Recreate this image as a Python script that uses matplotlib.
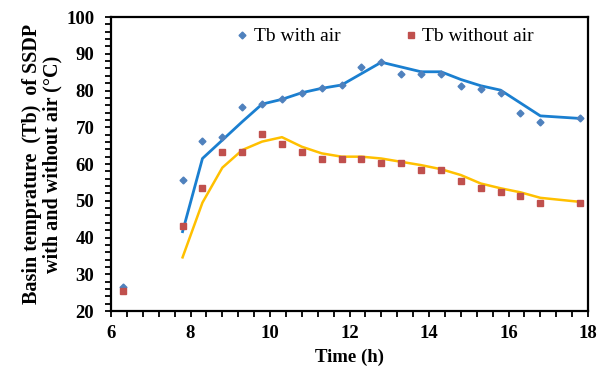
import numpy as np
import matplotlib
matplotlib.use("Agg")
import matplotlib.pyplot as plt

# measured points (h, degC)
t_pts = [6.3, 7.8, 8.3, 8.8, 9.3, 9.8, 10.3, 10.8, 11.3, 11.8, 12.3,
         12.8, 13.3, 13.8, 14.3, 14.8, 15.3, 15.8, 16.3, 16.8, 17.8]
tb_air = [26.6, 55.6, 66.3, 67.4, 75.4, 76.3, 77.6, 79.4, 80.6, 81.5, 86.5,
          87.7, 84.5, 84.5, 84.5, 81.3, 80.3, 79.4, 73.8, 71.3, 72.4]
tb_noair = [25.5, 43.2, 53.4, 63.3, 63.3, 68.3, 65.4, 63.3, 61.4, 61.3, 61.3,
            60.4, 60.4, 58.4, 58.4, 55.4, 53.4, 52.3, 51.3, 49.3, 49.3]

# fitted curves
t_fit = t_pts[1:]
fit_air = [41.6, 61.5, 66.5, 71.5, 76.3, 77.6, 79.4, 80.6, 81.5, 84.6,
           87.7, 86.4, 85.1, 85.1, 83.0, 81.3, 80.1, 76.6, 73.1, 72.4]
fit_noair = [34.6, 49.5, 59.0, 63.8, 66.1, 67.3, 64.7, 62.9, 62.0, 62.0,
             61.5, 60.6, 59.7, 58.6, 57.0, 54.7, 53.4, 52.3, 50.8, 49.7]

plt.rcParams['font.family'] = ['Liberation Serif', 'DejaVu Serif']

f = plt.figure(figsize=(6.05, 3.74), dpi=100)
ax = f.add_axes([0.1835, 0.1684, 0.972 - 0.1835, 0.9545 - 0.1684])

ax.plot(t_fit, fit_air, color='#1a7fd0', lw=2.0, solid_joinstyle='round', zorder=2)
ax.plot(t_fit, fit_noair, color='#ffc000', lw=1.8, solid_joinstyle='round', zorder=2)
h1, = ax.plot(t_pts, tb_air, ls='none', marker='D', ms=3.5, color='#4f81bd',
              label='Tb with air', zorder=3)
h2, = ax.plot(t_pts, tb_noair, ls='none', marker='s', ms=5, color='#c0504d',
              label='Tb without air', zorder=3)

ax.set_xlim(6, 18)
ax.set_ylim(20, 100)
ax.set_xticks(np.arange(6, 19, 2))
ax.set_yticks(np.arange(20, 101, 10))
ax.set_xticks(np.arange(6, 18.01, 0.4), minor=True)
ax.set_yticks(np.arange(20, 101, 2), minor=True)
ax.tick_params(which='both', direction='out', length=4, width=1.3, color='black')
ax.tick_params(axis='x', pad=6)
ax.tick_params(axis='y', pad=8)
for lbl in ax.get_xticklabels() + ax.get_yticklabels():
    lbl.set_fontweight('bold')
    lbl.set_fontsize(13.5)
for s in ax.spines.values():
    s.set_linewidth(1.6)
    s.set_color('black')

ax.set_xlabel('Time (h)', fontsize=13.5, fontweight='bold', labelpad=5)
ax.set_ylabel('Basin temprature  (Tb)  of SSDP\nwith and without air (\u00b0C)',
              fontsize=14.5, fontweight='bold', labelpad=3, linespacing=1.0)

ax.legend(handles=[h1, h2], loc='upper center', bbox_to_anchor=(0.575, 1.0), ncol=2,
          frameon=False, fontsize=14, handlelength=0.6, handletextpad=0.3,
          columnspacing=3.3, borderaxespad=0.15)

plt.savefig("out.png", dpi=100)
